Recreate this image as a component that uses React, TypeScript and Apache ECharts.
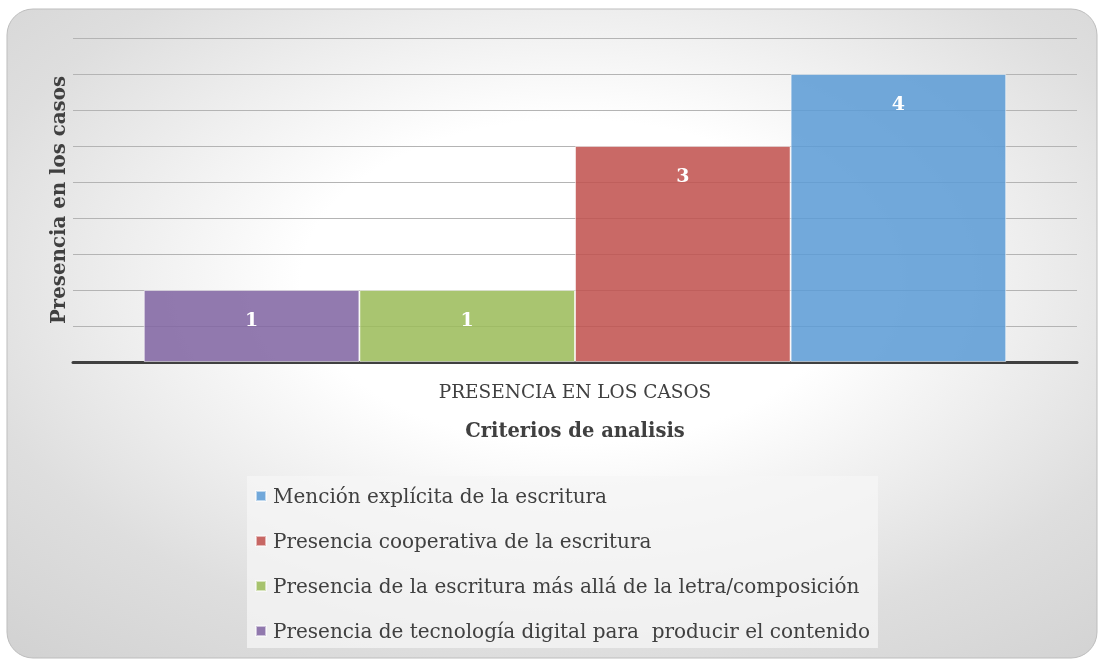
import React, { useEffect, useRef } from "react";
import * as echarts from "echarts";

const categories = ["PRESENCIA EN LOS CASOS"];
const seriesNames = [
  "Presencia de tecnología digital para  producir el contenido",
  "Presencia de la escritura más allá de la letra/composición",
  "Presencia cooperativa de la escritura",
  "Mención explícita de la escritura",
];
const seriesValues = [[1], [1], [3], [4]];
const seriesColors = [
  "rgba(128,100,162,0.86)",
  "rgba(155,187,89,0.86)",
  "rgba(192,80,77,0.86)",
  "rgba(91,155,213,0.86)",
];
const legendOrder = [
  "Mención explícita de la escritura",
  "Presencia cooperativa de la escritura",
  "Presencia de la escritura más allá de la letra/composición",
  "Presencia de tecnología digital para  producir el contenido",
];
const yAxisTitle = "Presencia en los casos";
const xAxisTitle = "Criterios de analisis";

const FONT = "DejaVu Serif";

export default function App() {
  const ref = useRef<HTMLDivElement>(null);
  useEffect(() => {
    if (!ref.current) return;
    const chart = echarts.init(ref.current, null, { renderer: "svg" });
    chart.setOption({
      animation: false,
      textStyle: { fontFamily: FONT },
      graphic: [
        {
          type: "rect",
          z: -10,
          silent: true,
          shape: { x: 7, y: 9, width: 1090, height: 649, r: 26 },
          style: {
            stroke: "#bdbdbd",
            lineWidth: 1,
            fill: new echarts.graphic.RadialGradient(0.52, 0.42, 1.0, [
              { offset: 0, color: "#ffffff" },
              { offset: 0.25, color: "#ffffff" },
              { offset: 0.57, color: "#dedede" },
              { offset: 1, color: "#c4c4c4" },
            ]),
          },
        },
      ],
      grid: { left: 73, right: 22, top: 38, bottom: 298, containLabel: false },
      legend: {
        data: legendOrder,
        orient: "vertical",
        left: 247,
        top: 476,
        padding: [8, 8, 5, 8],
        backgroundColor: "rgba(246,246,246,0.75)",
        itemWidth: 10,
        itemHeight: 10,
        itemGap: 21,
        icon: "rect",
        textStyle: {
          fontFamily: FONT,
          fontSize: 20,
          color: "#404040",
          lineHeight: 24,
          padding: [0, 0, 0, 2],
        },
      },
      xAxis: {
        type: "category",
        data: categories,
        axisTick: { show: false },
        axisLine: { lineStyle: { color: "#404040", width: 3 } },
        axisLabel: { fontFamily: FONT, fontSize: 18.5, color: "#404040", margin: 20 },
        name: xAxisTitle,
        nameLocation: "middle",
        nameGap: 58,
        nameTextStyle: {
          fontFamily: FONT,
          fontSize: 19.5,
          fontWeight: "bold",
          color: "#404040",
          verticalAlign: "top",
        },
      },
      yAxis: {
        type: "value",
        min: 0,
        max: 4.5,
        interval: 0.5,
        axisLabel: { show: false },
        axisTick: { show: false },
        axisLine: { show: false },
        splitLine: { lineStyle: { color: "#b4b4b4", width: 1 } },
        name: yAxisTitle,
        nameLocation: "middle",
        nameGap: 5,
        nameTextStyle: {
          fontFamily: FONT,
          fontSize: 19.8,
          fontWeight: "bold",
          color: "#404040",
        },
      },
      series: seriesNames.map((name, i) => ({
        type: "bar",
        name,
        data: seriesValues[i],
        barGap: "0%",
        barCategoryGap: "14.1%",
        itemStyle: {
          color: seriesColors[i],
          borderColor: "rgba(255,255,255,0.55)",
          borderWidth: 1,
        },
        label: {
          show: true,
          position: "insideTop",
          distance: 19,
          color: "#ffffff",
          fontFamily: FONT,
          fontWeight: "bold",
          fontSize: 19,
        },
      })),
    });
    return () => chart.dispose();
  }, []);
  return (
    <div
      ref={ref}
      style={{ position: "fixed", left: 0, top: 0, width: 1099, height: 660 }}
    />
  );
}
